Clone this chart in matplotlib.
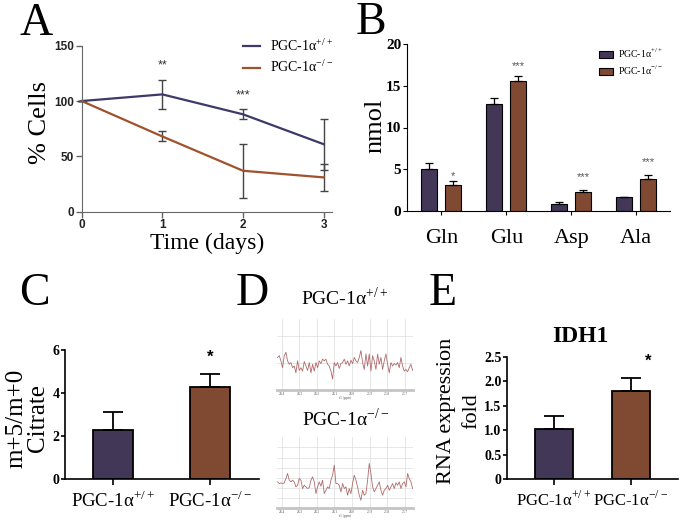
import matplotlib
matplotlib.use("Agg")
import matplotlib.pyplot as plt
import numpy as np

plt.rcParams['font.family'] = 'Liberation Serif'
plt.rcParams['mathtext.fontset'] = 'custom'
plt.rcParams['mathtext.rm'] = 'Liberation Serif'

# A - cell survival over time
days = [0, 1, 2, 3]
wt_cells = [100, 106, 88, 61]
wt_cells_err = [0, 13, 4.5, 23]
ko_cells = [100, 68, 37, 31]
ko_cells_err = [0, 4.5, 24.5, 12]

# B - amino acids
amino = ['Gln', 'Glu', 'Asp', 'Ala']
wt_nmol = [5.0, 12.8, 0.85, 1.6]
wt_nmol_err = [0.75, 0.8, 0.2, 0.05]
ko_nmol = [3.1, 15.6, 2.25, 3.8]
ko_nmol_err = [0.5, 0.6, 0.25, 0.47]
b_stars = ['*', '***', '***', '***']
b_star_y = [4.2, 17.4, 4.1, 5.8]

# C - citrate
groups = ['PGC-1α$^{+/+}$', 'PGC-1α$^{-/-}$']
citrate = [2.29, 4.28]
citrate_err = [0.85, 0.59]

# D - spectra (intensity, arbitrary units)
spec_wt = [95, 100, 85, 65, 100, 110, 85, 75, 80, 65, 70, 50, 85, 57, 65, 55, 83, 70, 57, 80,
           50, 75, 55, 80, 65, 85, 77, 90, 85, 90, 75, 70, 55, 32, 80, 70, 80, 63, 77, 80,
           90, 75, 85, 70, 87, 77, 95, 85, 80, 95, 115, 80, 60, 105, 70, 105, 55, 100, 85, 60,
           105, 75, 95, 60, 85, 105, 75, 50, 80, 70, 77, 73, 80, 65, 95, 70, 55, 60, 53, 65, 75, 57]
spec_ko = [79, 74, 76, 74, 76, 89, 104, 84, 79, 84, 79, 64, 69, 89, 84, 59, 69, 64, 59, 62,
           84, 94, 79, 44, 64, 79, 66, 84, 44, 54, 64, 59, 84, 99, 129, 74, 74, 69, 49, 74,
           59, 64, 39, 59, 44, 74, 99, 84, 64, 39, 24, 54, 39, 44, 84, 134, 104, 64, 49, 59,
           69, 79, 54, 39, 54, 59, 69, 54, 64, 74, 59, 76, 69, 79, 59, 74, 79, 64, 104, 89, 79, 59]
ppm_start, ppm_end = 24.425, 23.654
ppm_ticks = [24.4, 24.3, 24.2, 24.1, 24.0, 23.9, 23.8, 23.7]

# E - IDH1
idh1 = [1.02, 1.80]
idh1_err = [0.28, 0.27]

blue = '#3d3a68'
orange = '#a0512d'
bar_wt = '#433758'
bar_ko = '#804a32'

W, H = 694, 521
fig = plt.figure(figsize=(W / 100, H / 100), dpi=100)


def px_axes(l, t, r, b):
    return fig.add_axes([l / W, 1 - b / H, (r - l) / W, (b - t) / H])


def ftext(x, y, s, **kw):
    return fig.text(x / W, 1 - y / H, s, **kw)


# panel letters
for lt, x, y in [('A', 20, 35), ('B', 356, 34), ('C', 19, 305), ('D', 236, 305), ('E', 429, 305)]:
    ftext(x, y, lt, fontsize=33, va='baseline', ha='left')

# ---------- A ----------
ax = px_axes(81.7, 45.7, 331.7, 211.7)
ax.errorbar(days, wt_cells, yerr=wt_cells_err, color=blue, lw=1.6, ecolor='#444444',
            elinewidth=1, capsize=3, capthick=1, label='PGC-1α$^{+/+}$', clip_on=False)
ax.errorbar(days, ko_cells, yerr=ko_cells_err, color=orange, lw=1.6, ecolor='#444444',
            elinewidth=1, capsize=3, capthick=1, label='PGC-1α$^{-/-}$', clip_on=False)
ax.set_xlim(0, 3.1)
ax.set_ylim(0, 150)
ax.set_xticks(days)
ax.set_yticks([0, 50, 100, 150])
for s in ['top', 'right']:
    ax.spines[s].set_visible(False)
for s in ['left', 'bottom']:
    ax.spines[s].set_color('#666666')
ax.tick_params(colors='#666666', length=4, width=1, labelcolor='#222222', pad=1.5)
for lab in ax.get_xticklabels() + ax.get_yticklabels():
    lab.set_fontfamily('Liberation Sans')
    lab.set_fontweight('bold')
    lab.set_fontsize(8.5)
ax.text(1, 132, '**', ha='center', va='center', fontsize=9, family='Liberation Sans', color='#333333')
ax.text(2, 105, '***', ha='center', va='center', fontsize=9, family='Liberation Sans', color='#333333')
h, l = ax.get_legend_handles_labels()
h = [x[0] for x in h]
ax.legend(h, l, loc='upper left', bbox_to_anchor=(0.645, 1.05), frameon=False, fontsize=10,
          handlelength=1.25, handletextpad=0.7, labelspacing=0.35, borderpad=0, borderaxespad=0)
ax.set_xlabel('Time (days)', fontsize=17, labelpad=1)
ftext(40, 123, '% Cells', rotation=90, fontsize=19, ha='center', va='center')

# ---------- B ----------
ax = px_axes(406.7, 44.3, 670, 210.7)
x = np.arange(len(amino))
bw, off = 0.246, 0.185
ax.bar(x - off, wt_nmol, bw, color=bar_wt, edgecolor='black', lw=0.8, label='PGC-1α$^{+/+}$',
       yerr=[np.zeros(4), wt_nmol_err], capsize=3, error_kw=dict(elinewidth=0.9, capthick=0.9))
ax.bar(x + off, ko_nmol, bw, color=bar_ko, edgecolor='black', lw=0.8, label='PGC-1α$^{-/-}$',
       yerr=[np.zeros(4), ko_nmol_err], capsize=3, error_kw=dict(elinewidth=0.9, capthick=0.9))
for i in range(len(amino)):
    ax.text(x[i] + off, b_star_y[i], b_stars[i], ha='center', va='center', fontsize=8,
            family='Liberation Sans', color='#555555')
ax.set_xlim(-0.535, 3.52)
ax.set_ylim(0, 20)
ax.set_yticks([0, 5, 10, 15, 20])
ax.set_xticks(x)
ax.set_xticklabels(amino, fontsize=16)
for s in ['top', 'right']:
    ax.spines[s].set_visible(False)
ax.tick_params(axis='y', length=3, pad=1, labelsize=11)
ax.tick_params(axis='x', length=3, pad=10)
for lab in ax.get_yticklabels():
    lab.set_fontweight('bold')
ax.legend(loc='upper left', bbox_to_anchor=(0.73, 0.985), frameon=False, fontsize=7,
          handlelength=1.4, handleheight=0.8, handletextpad=0.6, labelspacing=0.4,
          borderpad=0, borderaxespad=0)
ftext(375, 126, 'nmol', rotation=90, fontsize=19, ha='center', va='center')


# ---------- C and E ----------
def two_bar(ax, vals, errs, w, fs):
    ax.bar([0, 1], vals, w, color=[bar_wt, bar_ko], edgecolor='black', lw=1.3,
           yerr=[[0, 0], errs], capsize=7, error_kw=dict(elinewidth=1.3, capthick=1.3, ecolor='black'))
    for s in ['top', 'right']:
        ax.spines[s].set_visible(False)
    for s in ['left', 'bottom']:
        ax.spines[s].set_linewidth(1.2)
    ax.set_xticks([0, 1])
    ax.set_xticklabels(groups, fontsize=fs)
    ax.tick_params(axis='x', length=4, width=1.2, pad=4)
    ax.tick_params(axis='y', length=3, width=1.2, pad=1, labelsize=10)
    for lab in ax.get_yticklabels():
        lab.set_fontweight('bold')


ax = px_axes(65, 350, 258.5, 479.3)
two_bar(ax, citrate, citrate_err, 0.41, 13.5)
ax.set_xlim(-0.495, 1.5)
ax.set_ylim(0, 6)
ax.set_yticks([0, 2, 4, 6])
ax.text(1, 5.67, '*', ha='center', va='center', fontsize=12, family='Liberation Sans', weight='bold')
ftext(27, 418, 'm+5/m+0\nCitrate', rotation=90, fontsize=18, ha='center', va='center', linespacing=1.0)

ax = px_axes(507, 356.7, 678, 479.3)
two_bar(ax, idh1, idh1_err, 0.49, 12)
ax.set_xlim(-0.61, 1.61)
ax.set_ylim(0, 2.5)
ax.set_yticks([0, 0.5, 1.0, 1.5, 2.0, 2.5])
ax.set_yticklabels(['0', '0.5', '1.0', '1.5', '2.0', '2.5'])
for lab in ax.get_yticklabels():
    lab.set_fontweight('bold')
ax.text(1.22, 2.4, '*', ha='center', va='center', fontsize=12, family='Liberation Sans', weight='bold')
ftext(580, 337, 'IDH1', fontsize=17, weight='bold', ha='center', va='center')
ftext(459, 411, 'RNA expression\nfold', rotation=90, fontsize=16, ha='center', va='center', linespacing=1.5)


# ---------- D ----------
def spectrum(ax, vals, top, grid_y):
    ppm = np.linspace(ppm_start, ppm_end, len(vals))
    ax.plot(ppm, vals, color='#b06b6b', lw=0.6)
    ax.set_xlim(24.43, 23.65)
    ax.set_ylim(0, top)
    ax.set_xticks(ppm_ticks)
    ax.set_xticklabels(['%.1f' % t for t in ppm_ticks], fontsize=2.5, color='#555555')
    ax.set_yticks(grid_y)
    ax.set_yticklabels([])
    ax.tick_params(length=0, pad=1.5)
    ax.grid(True, color='#dddddd', lw=0.5)
    for s in ['top', 'right', 'left']:
        ax.spines[s].set_visible(False)
    ax.spines['bottom'].set_color('#c4c4c4')
    ax.spines['bottom'].set_linewidth(2)
    ax.set_xlabel('f1 (ppm)', fontsize=2.5, labelpad=0, color='#555555')


ax = px_axes(276.7, 319, 413.3, 390)
spectrum(ax, spec_wt, 207, [78, 157])
ax = px_axes(276.7, 436.7, 413.3, 508.3)
spectrum(ax, spec_ko, 214, [31, 61, 91, 121, 151, 182])
ftext(345, 298, 'PGC-1α$^{+/+}$', fontsize=14, ha='center', va='center')
ftext(346, 419, 'PGC-1α$^{-/-}$', fontsize=14, ha='center', va='center')

fig.savefig('out.png', dpi=100)
